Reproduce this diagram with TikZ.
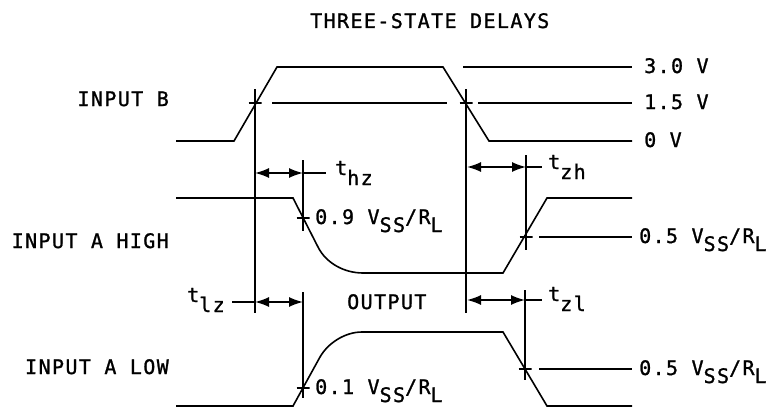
\documentclass[tikz,border=0pt]{standalone}
\usepackage{fontspec}
\setmainfont{DejaVu Sans Mono}[LetterSpace=7,FakeBold=1.2]
\usetikzlibrary{arrows.meta,positioning}
\tikzset{
  wave/.style={line width=1.6pt, line join=miter},
  refline/.style={line width=1.6pt},
  crossmark/.style={minimum size=13pt, inner sep=0pt,
    path picture={\draw[line width=1.8pt]
      (path picture bounding box.north) -- (path picture bounding box.south)
      (path picture bounding box.west) -- (path picture bounding box.east);}},
  dim/.style={line width=1.6pt,
    {Latex[length=14pt,width=10pt]}-{Latex[length=14pt,width=10pt]}},
  lbl/.style={inner sep=0pt, font=\fontsize{20}{22}\selectfont}
}
\newcommand\dn[1]{\raisebox{-8pt}{#1}}

\begin{document}
\begin{tikzpicture}[x=1pt,y=-1pt]
\useasboundingbox (0,0) rectangle (778,412);

% texts
\node[lbl,anchor=base west] (title) at (310,28) {THREE-STATE DELAYS};
\node[lbl,anchor=base east] (inB)  at (169,106) {INPUT B};
\node[lbl,anchor=base east] (inAH) at (169,248) {INPUT A HIGH};
\node[lbl,anchor=base east] (inAL) at (169,374) {INPUT A LOW};
\node[lbl,anchor=base west] (outp) at (347,309) {OUTPUT};

\node[lbl,anchor=base west] (v30) at (644,73)  {3.0 V};
\node[lbl,anchor=base west] (v15) at (644,109) {1.5 V};
\node[lbl,anchor=base west] (v0)  at (644,147) {0 V};
\node[lbl,anchor=base west] (v09) at (315,224) {0.9 V\dn{SS}/R\dn{L}};
\node[lbl,anchor=base west] (v05h) at (639,243) {0.5 V\dn{SS}/R\dn{L}};
\node[lbl,anchor=base west] (v01) at (315,394) {0.1 V\dn{SS}/R\dn{L}};
\node[lbl,anchor=base west] (v05l) at (639,375) {0.5 V\dn{SS}/R\dn{L}};

\node[lbl,anchor=base west] (thz) at (335,175) {t\raisebox{-10pt}{hz}};
\node[lbl,anchor=base west] (tzh) at (548,169) {t\raisebox{-10pt}{zh}};
\node[lbl,anchor=base west] (tlz) at (187,302) {t\raisebox{-10pt}{lz}};
\node[lbl,anchor=base west] (tzl) at (548,301) {t\raisebox{-10pt}{zl}};

% waveforms
\draw[wave] (176,141) -- (234,141) -- (277,67) -- (443,67) -- (489,141) -- (632,141);
\draw[wave] (176,198) -- (293,198) -- (318,247)
  .. controls (326,263) and (344,273) .. (363,273)
  -- (503,273) -- (547,198) -- (632,198);
\draw[wave] (176,406) -- (293,406) -- (320,357)
  .. controls (328,343) and (345,332) .. (362,332)
  -- (503,332) -- (547,406) -- (632,406);

% crossing marks
\node[crossmark] (bRise)  at (255,103) {};
\node[crossmark] (bFall)  at (466,103) {};
\node[crossmark] (hiFall) at (303,218) {};
\node[crossmark] (hiRise) at (526,237) {};
\node[crossmark] (loRise) at (303,388) {};
\node[crossmark] (loFall) at (525,369) {};

% reference levels
\draw[refline] (463,67) -- (632,67);
\draw[refline] (272,103) -- (447,103);
\draw[refline] (478,103) -- (632,103);
\draw[refline] (539,237) -- (632,237);
\draw[refline] (539,369) -- (632,369);

% timing verticals
\coordinate (bRiseEnd) at (255,313);
\coordinate (bFallEnd) at (466,313);
\draw[refline] ([yshift=14pt]bRise.center) -- (bRiseEnd);
\draw[refline] ([yshift=14pt]bFall.center) -- (bFallEnd);
\draw[refline] (303,160) -- ([yshift=-13pt]hiFall.center);
\draw[refline] (526,155) -- ([yshift=-13pt]hiRise.center);
\draw[refline] (303,292) -- ([yshift=-10pt]loRise.center);
\draw[refline] (525,290) -- ([yshift=-11pt]loFall.center);

% delays
\draw[dim] (255,173) -- (303,173);
\draw[refline] (303,173) -- (326,173);
\draw[dim] (467,167) -- (526,167);
\draw[refline] (526,167) -- (542,167);
\draw[dim] (255,302) -- (303,302);
\draw[refline] (232,302) -- (255,302);
\draw[dim] (467,300) -- (525,300);
\draw[refline] (525,300) -- (542,300);
\end{tikzpicture}
\end{document}
